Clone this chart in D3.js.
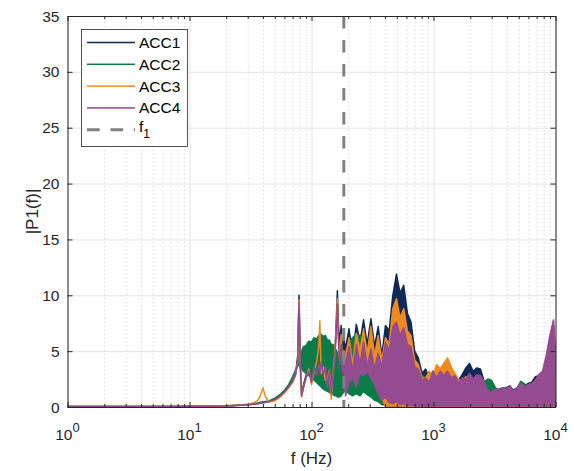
<!DOCTYPE html>
<html>
<head>
<meta charset="utf-8">
<script src="https://cdn.jsdelivr.net/npm/d3@7"></script>
<style>
  body { margin: 0; background: #fff; }
  svg { display: block; font-family: "Liberation Sans", Arial, sans-serif; }
</style>
</head>
<body>
<svg id="chart" width="574" height="471"></svg>
<script>
// frequency grid (Hz)
var freqs = [1, 2, 4, 7, 10, 14, 18, 22, 26, 30, 33, 36, 38, 40, 42, 45, 50, 55, 60, 65,
    70, 74, 77, 79, 81, 83, 86, 90, 95, 100, 105, 110, 115, 117, 120, 125, 130, 135, 140, 145,
    150, 155, 160, 163, 166, 170, 175, 180, 185,
    190, 203, 217, 233, 250, 267, 286, 307, 329, 352, 377, 404, 433, 464, 497, 532, 570, 611, 654, 701,
    751, 805, 862, 924, 990, 1060, 1136, 1217, 1304, 1397, 1497, 1604, 1718, 1841, 1972, 2113, 2264, 2425, 2598, 2784,
    2983, 3196, 3424, 3668, 3930, 4210, 4511, 4833, 5178, 5548, 5944, 6368, 6823, 7310, 7832, 8391, 8990, 9632, 10000];

// upper / lower envelope of each |P1(f)| trace
var acc1Hi = [0.05, 0.05, 0.05, 0.05, 0.06, 0.07, 0.09, 0.12, 0.16, 0.2, 0.25, 0.3, 0.35, 0.4, 0.42, 0.5, 0.7, 1.0, 1.4, 1.9,
    2.4, 3.0, 4.5, 10.0, 4.0, 1.2, 2.0, 2.8, 3.5, 2.6, 3.8, 3.4, 4.0, 3.6, 4.2, 3.5, 4.0, 3.0, 3.8, 2.6,
    3.5, 4.5, 8.0, 10.4, 7.5, 5.5, 7.3, 5.0, 6.0,
    5.2, 7.0, 4.6, 7.4, 5.8, 7.8, 5.6, 7.9, 5.4, 7.2, 4.6, 7.3, 6.8, 10.0, 11.9, 10.2, 10.9, 8.4, 7.6, 5.0,
    4.4, 3.0, 3.4, 2.6, 3.2, 2.8, 3.3, 2.9, 3.3, 2.7, 2.8, 2.4, 2.9, 3.5, 3.9, 3.2, 3.5, 3.4, 2.3, 1.5,
    1.4, 1.6, 1.6, 1.7, 1.7, 1.9, 1.5, 1.7, 2.2, 1.9, 2.1, 2.2, 2.7, 2.8, 3.0, 4.2, 6.0, 7.3, 4.8];
var acc1Lo = [0.05, 0.05, 0.05, 0.05, 0.06, 0.07, 0.09, 0.12, 0.16, 0.2, 0.25, 0.3, 0.35, 0.4, 0.42, 0.5, 0.7, 1.0, 1.4, 1.9,
    2.4, 3.0, 4.5, 10.0, 4.0, 1.2, 2.0, 2.8, 3.5, 2.6, 3.8, 3.4, 4.0, 3.6, 4.2, 3.5, 4.0, 3.0, 3.8, 2.6,
    3.5, 4.5, 8.0, 10.4, 7.5, 5.5, 7.3, 5.0, 6.0,
    3.0, 3.2, 2.8, 3.4, 3.6, 3.0, 3.5, 3.2, 3.0, 2.0, 1.0, 0.1, 0.1, 0.1, 0.1, 0.1, 0.1, 0.1, 0.1, 0.1,
    0.1, 0.1, 0.1, 0.1, 0.1, 0.1, 0.1, 0.1, 0.1, 0.1, 0.1, 0.1, 0.1, 0.1, 0.1, 0.1, 0.1, 0.1, 0.1, 0.1,
    0.1, 0.1, 0.1, 0.1, 0.1, 0.1, 0.1, 0.1, 0.1, 0.1, 0.1, 0.1, 0.1, 0.1, 0.1, 0.1, 0.1, 0.1, 0.1];

var acc2Hi = [0.05, 0.05, 0.05, 0.05, 0.06, 0.07, 0.09, 0.13, 0.18, 0.24, 0.3, 0.36, 0.42, 0.46, 0.5, 0.55, 0.8, 1.1, 1.5, 2.0,
    2.7, 3.3, 3.6, 4.3, 4.8, 5.0, 5.4, 5.5, 5.9, 5.8, 6.2, 6.1, 6.4, 6.3, 6.5, 6.3, 6.4, 6.0, 6.0, 5.6,
    5.6, 5.2, 5.1, 4.8, 4.7, 4.5, 4.6, 4.4, 4.8,
    5.0, 5.8, 6.2, 6.5, 6.4, 6.0, 5.2, 4.2, 3.2, 2.6, 2.2, 2.0, 1.8, 1.6, 1.5, 1.4, 1.5, 1.6, 1.8, 2.0,
    2.3, 2.8, 2.6, 2.0, 1.8, 1.6, 1.5, 1.6, 1.8, 1.7, 1.6, 1.5, 1.6, 1.8, 2.0, 1.9, 1.8, 2.0, 2.2, 2.5,
    2.4, 1.8, 1.4, 1.3, 1.5, 1.6, 1.4, 1.5, 2.3, 2.1, 1.6, 1.7, 1.8, 2.0, 2.2, 2.5, 2.8, 3.0, 2.6];
var acc2Lo = [0.05, 0.05, 0.05, 0.05, 0.06, 0.07, 0.09, 0.13, 0.18, 0.24, 0.3, 0.36, 0.42, 0.46, 0.5, 0.55, 0.8, 1.1, 1.5, 2.0,
    2.7, 3.3, 3.6, 3.9, 3.6, 3.4, 3.2, 3.0, 2.8, 2.6, 2.4, 2.2, 2.0, 1.9, 1.8, 1.6, 1.5, 1.4, 1.3, 1.2,
    1.1, 1.0, 1.0, 0.9, 0.9, 0.9, 1.0, 1.2, 1.4,
    1.5, 1.2, 1.0, 1.2, 1.0, 1.4, 1.1, 0.9, 0.6, 0.5, 0.2, 0.2, 0.2, 0.2, 0.2, 0.2, 0.2, 0.2, 0.2, 0.2,
    0.2, 0.2, 0.2, 0.2, 0.2, 0.2, 0.2, 0.2, 0.2, 0.2, 0.2, 0.2, 0.2, 0.2, 0.2, 0.2, 0.2, 0.2, 0.2, 0.2,
    0.2, 0.2, 0.2, 0.2, 0.2, 0.2, 0.2, 0.2, 0.2, 0.2, 0.2, 0.2, 0.2, 0.2, 0.2, 0.2, 0.2, 0.2, 0.2];

var acc3Hi = [0.05, 0.05, 0.05, 0.05, 0.06, 0.08, 0.1, 0.13, 0.17, 0.22, 0.35, 0.55, 1.0, 1.7, 0.9, 0.45, 0.55, 0.85, 1.25, 1.7,
    2.2, 2.8, 4.0, 9.6, 3.6, 0.9, 1.8, 2.5, 3.4, 2.0, 3.2, 4.0, 5.5, 7.7, 3.0, 3.6, 2.4, 2.4, 3.3, 0.7,
    3.0, 4.6, 7.4, 9.7, 6.5, 4.2, 6.5, 3.6, 5.0,
    4.4, 6.2, 3.8, 6.6, 5.0, 7.0, 4.8, 7.2, 4.6, 6.4, 4.2, 6.2, 5.6, 8.8, 9.7, 8.0, 8.8, 6.8, 6.4, 4.2,
    3.8, 2.6, 2.6, 3.2, 2.8, 3.8, 3.4, 3.9, 4.4, 3.6, 3.0, 2.5, 2.3, 2.7, 2.6, 2.5, 2.4, 2.6, 2.0, 1.3,
    1.2, 1.4, 1.5, 1.4, 1.6, 1.7, 1.4, 1.5, 1.9, 1.8, 1.8, 2.0, 2.1, 2.6, 3.0, 4.3, 6.0, 7.4, 5.2];
var acc3Lo = [0.05, 0.05, 0.05, 0.05, 0.06, 0.08, 0.1, 0.13, 0.17, 0.22, 0.35, 0.55, 1.0, 1.7, 0.9, 0.45, 0.55, 0.85, 1.25, 1.7,
    2.2, 2.8, 4.0, 9.6, 3.6, 0.9, 1.8, 2.5, 3.4, 2.0, 3.2, 4.0, 5.5, 7.7, 3.0, 3.6, 2.4, 2.4, 3.3, 0.7,
    3.0, 4.6, 7.4, 9.7, 6.5, 4.2, 6.5, 3.6, 5.0,
    2.6, 3.0, 2.6, 3.2, 3.4, 3.0, 3.3, 3.0, 2.8, 1.8, 0.8, 0.1, 0.1, 0.1, 0.1, 0.1, 0.1, 0.1, 0.1, 0.1,
    0.1, 0.1, 0.1, 0.1, 0.1, 0.1, 0.1, 0.1, 0.1, 0.1, 0.1, 0.1, 0.1, 0.1, 0.1, 0.1, 0.1, 0.1, 0.1, 0.1,
    0.1, 0.1, 0.1, 0.1, 0.1, 0.1, 0.1, 0.1, 0.1, 0.1, 0.1, 0.1, 0.1, 0.1, 0.1, 0.1, 0.1, 0.1, 0.1];

var acc4Hi = [0.05, 0.05, 0.05, 0.05, 0.06, 0.07, 0.09, 0.12, 0.16, 0.2, 0.25, 0.3, 0.34, 0.38, 0.4, 0.48, 0.66, 0.95, 1.35, 1.8,
    2.3, 2.9, 4.2, 9.3, 3.5, 1.0, 1.7, 2.6, 3.2, 2.2, 3.6, 2.8, 3.9, 3.0, 4.0, 2.9, 3.6, 1.8, 3.2, 1.2,
    2.8, 4.0, 7.0, 9.2, 6.0, 3.8, 5.6, 3.0, 4.4,
    3.8, 5.4, 3.2, 5.6, 3.8, 5.8, 3.6, 5.2, 3.4, 4.8, 3.6, 5.8, 5.0, 7.2, 7.6, 6.4, 7.1, 5.6, 5.4, 3.6,
    3.4, 2.4, 2.6, 2.2, 3.2, 2.6, 3.2, 2.8, 3.2, 2.6, 2.8, 2.2, 2.6, 2.5, 3.0, 2.5, 2.9, 2.8, 2.3, 1.5,
    1.3, 1.6, 1.5, 1.7, 1.6, 1.9, 1.4, 1.7, 2.1, 1.8, 2.0, 2.1, 2.4, 2.9, 3.2, 4.6, 6.4, 7.8, 5.0];
var acc4Lo = [0.05, 0.05, 0.05, 0.05, 0.06, 0.07, 0.09, 0.12, 0.16, 0.2, 0.25, 0.3, 0.34, 0.38, 0.4, 0.48, 0.66, 0.95, 1.35, 1.8,
    2.3, 2.9, 4.2, 9.3, 3.5, 1.0, 1.7, 2.6, 3.2, 2.2, 3.6, 2.8, 3.9, 3.0, 4.0, 2.9, 3.6, 1.8, 3.2, 1.2,
    2.8, 4.0, 7.0, 9.2, 6.0, 3.8, 5.6, 3.0, 4.4,
    1.0, 2.2, 2.6, 1.8, 3.0, 2.8, 3.2, 2.6, 2.0, 1.2, 0.6, 0.9, 0.4, 0.3, 0.5, 0.2, 0.3, 0.1, 0.2, 0.1,
    0.1, 0.1, 0.1, 0.1, 0.1, 0.1, 0.1, 0.1, 0.1, 0.1, 0.1, 0.1, 0.1, 0.1, 0.1, 0.1, 0.1, 0.1, 0.1, 0.1,
    0.1, 0.1, 0.1, 0.1, 0.1, 0.1, 0.1, 0.1, 0.1, 0.1, 0.1, 0.1, 0.1, 0.1, 0.1, 0.1, 0.1, 0.1, 0.1];

var seriesNames = ["ACC1", "ACC2", "ACC3", "ACC4"];
var seriesColors = ["#0f2a56", "#0b7b47", "#ee8a1d", "#944b90"];
var f1 = 184;

var yTicks = [0, 5, 10, 15, 20, 25, 30, 35];
var xDecades = [1, 10, 100, 1000, 10000];
var xExponents = ["0", "1", "2", "3", "4"];
var xMinor = [2, 3, 4, 5, 6, 7, 8, 9, 20, 30, 40, 50, 60, 70, 80, 90,
    200, 300, 400, 500, 600, 700, 800, 900, 2000, 3000, 4000, 5000, 6000, 7000, 8000, 9000];

drawChart();

function drawChart() {
    var plotLeft = 67.5, plotRight = 555.5, plotTop = 16, plotBottom = 407;
    var axisColor = "#262626";

    var x = d3.scaleLog().domain([1, 10000]).range([plotLeft, plotRight]);
    var y = d3.scaleLinear().domain([0, 35]).range([plotBottom, plotTop]);

    var svg = d3.select("#chart");

    // grid
    svg.append("g")
        .attr("transform", "translate(0," + plotBottom + ")")
        .call(d3.axisBottom(x).tickValues(xMinor).tickSize(-(plotBottom - plotTop)).tickFormat(""))
        .call(function (g) { g.select(".domain").remove(); })
        .selectAll("line")
        .attr("stroke", "#cfcfcf")
        .attr("stroke-dasharray", "1,3");

    svg.append("g")
        .attr("transform", "translate(0," + plotBottom + ")")
        .call(d3.axisBottom(x).tickValues(xDecades).tickSize(-(plotBottom - plotTop)).tickFormat(""))
        .call(function (g) { g.select(".domain").remove(); })
        .selectAll("line")
        .attr("stroke", "#e4e4e4");

    svg.append("g")
        .attr("transform", "translate(" + plotLeft + ",0)")
        .call(d3.axisLeft(y).tickValues(yTicks).tickSize(-(plotRight - plotLeft)).tickFormat(""))
        .call(function (g) { g.select(".domain").remove(); })
        .selectAll("line")
        .attr("stroke", "#e4e4e4");

    // traces
    svg.append("clipPath").attr("id", "plotClip")
        .append("rect")
        .attr("x", plotLeft).attr("y", plotTop)
        .attr("width", plotRight - plotLeft).attr("height", plotBottom - plotTop);

    var plot = svg.append("g").attr("clip-path", "url(#plotClip)");

    var his = [acc1Hi, acc2Hi, acc3Hi, acc4Hi];
    var los = [acc1Lo, acc2Lo, acc3Lo, acc4Lo];

    var area = d3.area()
        .x(function (d) { return x(d.f); })
        .y0(function (d) { return y(d.lo); })
        .y1(function (d) { return y(d.hi); });

    seriesNames.forEach(function (name, k) {
        var pts = freqs.map(function (f, i) {
            return {f: f, hi: his[k][i], lo: los[k][i]};
        });
        plot.append("path")
            .datum(pts)
            .attr("d", area)
            .attr("fill", seriesColors[k])
            .attr("stroke", seriesColors[k])
            .attr("stroke-width", 1.5)
            .attr("stroke-linejoin", "round");
    });

    // f1 marker
    plot.append("line")
        .attr("x1", x(f1)).attr("x2", x(f1))
        .attr("y1", plotTop).attr("y2", plotBottom)
        .attr("stroke", "#808080")
        .attr("stroke-width", 3)
        .attr("stroke-dasharray", "12.5,11.5");

    // axes: ticks inside, full box
    function styleAxis(g) {
        g.select(".domain").attr("stroke", axisColor);
        g.selectAll(".tick line").attr("stroke", axisColor);
    }

    svg.append("g")
        .attr("transform", "translate(0," + plotBottom + ")")
        .call(d3.axisBottom(x).tickValues(xMinor).tickSizeInner(-3).tickSizeOuter(0).tickFormat(""))
        .call(styleAxis);
    svg.append("g")
        .attr("transform", "translate(0," + plotBottom + ")")
        .call(d3.axisBottom(x).tickValues(xDecades).tickSizeInner(-5).tickSizeOuter(0).tickFormat(""))
        .call(styleAxis);
    svg.append("g")
        .attr("transform", "translate(0," + plotTop + ")")
        .call(d3.axisTop(x).tickValues(xMinor).tickSizeInner(-3).tickSizeOuter(0).tickFormat(""))
        .call(styleAxis);
    svg.append("g")
        .attr("transform", "translate(0," + plotTop + ")")
        .call(d3.axisTop(x).tickValues(xDecades).tickSizeInner(-5).tickSizeOuter(0).tickFormat(""))
        .call(styleAxis);
    svg.append("g")
        .attr("transform", "translate(" + plotLeft + ",0)")
        .call(d3.axisLeft(y).tickValues(yTicks).tickSizeInner(-5).tickSizeOuter(0).tickFormat(""))
        .call(styleAxis);
    svg.append("g")
        .attr("transform", "translate(" + plotRight + ",0)")
        .call(d3.axisRight(y).tickValues(yTicks).tickSizeInner(-5).tickSizeOuter(0).tickFormat(""))
        .call(styleAxis);

    // tick labels
    svg.append("g").selectAll("text")
        .data(yTicks)
        .enter().append("text")
        .attr("x", plotLeft - 8)
        .attr("y", function (d) { return y(d); })
        .attr("dy", "0.36em")
        .attr("text-anchor", "end")
        .attr("font-size", 15.5)
        .attr("fill", axisColor)
        .text(function (d) { return d; });

    var xl = svg.append("g").selectAll("text")
        .data(xDecades)
        .enter().append("text")
        .attr("x", function (d) { return x(d); })
        .attr("y", 440)
        .attr("text-anchor", "middle")
        .attr("font-size", 15.5)
        .attr("fill", axisColor);
    xl.append("tspan").text("10");
    xl.append("tspan")
        .attr("dy", -8)
        .attr("font-size", 13)
        .text(function (d, i) { return xExponents[i]; });

    // axis titles
    svg.append("text")
        .attr("x", (plotLeft + plotRight) / 2)
        .attr("y", 464)
        .attr("text-anchor", "middle")
        .attr("font-size", 17)
        .attr("fill", axisColor)
        .text("f (Hz)");

    svg.append("text")
        .attr("transform", "translate(38," + (plotTop + plotBottom) / 2 + ") rotate(-90)")
        .attr("text-anchor", "middle")
        .attr("font-size", 17)
        .attr("fill", axisColor)
        .text("|P1(f)|");

    // legend
    var legend = svg.append("g");
    legend.append("rect")
        .attr("x", 81.5).attr("y", 29.5)
        .attr("width", 106).attr("height", 117)
        .attr("fill", "#fff")
        .attr("stroke", axisColor)
        .attr("stroke-width", 0.8);

    var rowY = function (i) { return 42.5 + i * 21.8; };

    seriesNames.forEach(function (name, i) {
        legend.append("rect")
            .attr("x", 87).attr("y", rowY(i) - 0.75)
            .attr("width", 48).attr("height", 1.5)
            .attr("fill", seriesColors[i]);
        legend.append("text")
            .attr("x", 139)
            .attr("y", rowY(i) + 5.5)
            .attr("font-size", 15.5)
            .attr("fill", "#000")
            .text(name);
    });

    var fy = rowY(seriesNames.length);
    legend.append("line")
        .attr("x1", 87).attr("x2", 135)
        .attr("y1", fy).attr("y2", fy)
        .attr("stroke", "#808080")
        .attr("stroke-width", 3)
        .attr("stroke-dasharray", "12.7,10.7");
    var ft = legend.append("text")
        .attr("x", 139)
        .attr("y", fy + 2)
        .attr("font-size", 15.5)
        .attr("fill", "#000");
    ft.append("tspan").text("f");
    ft.append("tspan").attr("dy", 6).attr("font-size", 12).text("1");
}
</script>
</body>
</html>
